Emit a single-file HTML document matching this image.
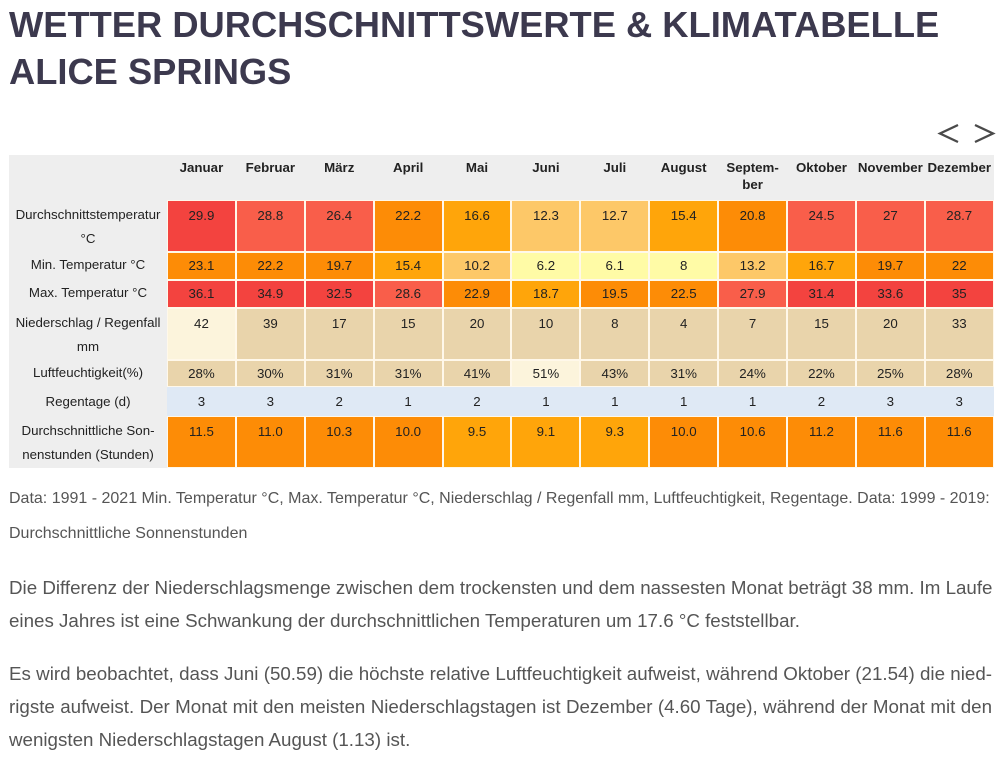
<!DOCTYPE html>
<html><head><meta charset="utf-8">
<style>
html,body{margin:0;padding:0;background:#fff;}
body{width:1000px;height:761px;position:relative;overflow:hidden;font-family:"Liberation Sans",Arial,sans-serif;}
.title{position:absolute;left:9px;top:1px;font-size:36.3px;font-weight:bold;line-height:47px;color:#3c394e;white-space:nowrap;}
.grid{position:absolute;left:9px;top:155px;display:grid;grid-template-columns:158px repeat(12,68.9px);grid-template-rows:45px 52px 28px 28px 52px 27px 29px 52px;background:#eeeeee;font-size:13.3px;color:#222;}
.grid div{box-sizing:border-box;text-align:center;overflow:hidden;}
.h{font-weight:bold;line-height:17px;padding-top:4px;color:#222;}
.l{color:#222;}
.c{border:1px solid #fff8ea;}
.d2{line-height:24px;padding-top:3px;}
.r28{line-height:26px;}
.r27{line-height:25px;}
.r29{line-height:27px;}
.R{background:#f3433f;}
.T{background:#f95e4a;}
.D{background:#fd8c06;}
.O{background:#ffa50a;}
.L{background:#fdc868;}
.Y{background:#fffba6;}
.N{background:#e9d4ab;}
.C{background:#fcf4dc;}
.B{background:#dfe9f5;border-color:#dfe9f5 !important;}
.txt{position:absolute;left:9px;color:#555;white-space:nowrap;}
.data{top:482px;font-size:16px;line-height:34.5px;}
.p{font-size:18.75px;line-height:33px;width:983px;}
.p .j{text-align:justify;text-align-last:justify;}
</style></head><body>
<div class="title">WETTER DURCHSCHNITTSWERTE &amp; KLIMATABELLE<br>ALICE SPRINGS</div>
<svg style="position:absolute;left:0;top:0" width="1000" height="160">
<polyline points="958,125 940,133.5 958,142" fill="none" stroke="#4a4a4a" stroke-width="2.3"/>
<polyline points="975,125 993,133.5 975,142" fill="none" stroke="#4a4a4a" stroke-width="2.3"/>
</svg>
<div class="grid">
<div class="h"></div><div class="h">Januar</div><div class="h">Februar</div><div class="h">März</div><div class="h">April</div><div class="h">Mai</div><div class="h">Juni</div><div class="h">Juli</div><div class="h">August</div><div class="h">Septem-<br>ber</div><div class="h">Oktober</div><div class="h">November</div><div class="h">Dezember</div>

<div class="l d2">Durchschnittstemperatur<br>°C</div>
<div class="c d2 R">29.9</div><div class="c d2 T">28.8</div><div class="c d2 T">26.4</div><div class="c d2 D">22.2</div><div class="c d2 O">16.6</div><div class="c d2 L">12.3</div><div class="c d2 L">12.7</div><div class="c d2 O">15.4</div><div class="c d2 D">20.8</div><div class="c d2 T">24.5</div><div class="c d2 T">27</div><div class="c d2 T">28.7</div>

<div class="l r28">Min. Temperatur °C</div>
<div class="c r28 D">23.1</div><div class="c r28 D">22.2</div><div class="c r28 D">19.7</div><div class="c r28 O">15.4</div><div class="c r28 L">10.2</div><div class="c r28 Y">6.2</div><div class="c r28 Y">6.1</div><div class="c r28 Y">8</div><div class="c r28 L">13.2</div><div class="c r28 O">16.7</div><div class="c r28 D">19.7</div><div class="c r28 D">22</div>

<div class="l r28">Max. Temperatur °C</div>
<div class="c r28 R">36.1</div><div class="c r28 R">34.9</div><div class="c r28 R">32.5</div><div class="c r28 T">28.6</div><div class="c r28 D">22.9</div><div class="c r28 O">18.7</div><div class="c r28 D">19.5</div><div class="c r28 D">22.5</div><div class="c r28 T">27.9</div><div class="c r28 R">31.4</div><div class="c r28 R">33.6</div><div class="c r28 R">35</div>

<div class="l d2">Niederschlag / Regenfall<br>mm</div>
<div class="c d2 C">42</div><div class="c d2 N">39</div><div class="c d2 N">17</div><div class="c d2 N">15</div><div class="c d2 N">20</div><div class="c d2 N">10</div><div class="c d2 N">8</div><div class="c d2 N">4</div><div class="c d2 N">7</div><div class="c d2 N">15</div><div class="c d2 N">20</div><div class="c d2 N">33</div>

<div class="l r27">Luftfeuchtigkeit(%)</div>
<div class="c r27 N">28%</div><div class="c r27 N">30%</div><div class="c r27 N">31%</div><div class="c r27 N">31%</div><div class="c r27 N">41%</div><div class="c r27 C">51%</div><div class="c r27 N">43%</div><div class="c r27 N">31%</div><div class="c r27 N">24%</div><div class="c r27 N">22%</div><div class="c r27 N">25%</div><div class="c r27 N">28%</div>

<div class="l r29" style="line-height:29px">Regentage (d)</div>
<div class="c r29 B">3</div><div class="c r29 B">3</div><div class="c r29 B">2</div><div class="c r29 B">1</div><div class="c r29 B">2</div><div class="c r29 B">1</div><div class="c r29 B">1</div><div class="c r29 B">1</div><div class="c r29 B">1</div><div class="c r29 B">2</div><div class="c r29 B">3</div><div class="c r29 B">3</div>

<div class="l d2">Durchschnittliche Son-<br>nenstunden (Stunden)</div>
<div class="c d2 D">11.5</div><div class="c d2 D">11.0</div><div class="c d2 D">10.3</div><div class="c d2 D">10.0</div><div class="c d2 O">9.5</div><div class="c d2 O">9.1</div><div class="c d2 O">9.3</div><div class="c d2 D">10.0</div><div class="c d2 D">10.6</div><div class="c d2 D">11.2</div><div class="c d2 D">11.6</div><div class="c d2 D">11.6</div>
</div>

<div class="txt data">Data: 1991 - 2021 Min. Temperatur °C, Max. Temperatur °C, Niederschlag / Regenfall mm, Luftfeuchtigkeit, Regentage. Data: 1999 - 2019:<br>Durchschnittliche Sonnenstunden</div>

<div class="txt p" style="top:571px">
<div class="j">Die Differenz der Niederschlagsmenge zwischen dem trockensten und dem nassesten Monat beträgt 38 mm. Im Laufe</div>
<div>eines Jahres ist eine Schwankung der durchschnittlichen Temperaturen um 17.6 °C feststellbar.</div>
</div>

<div class="txt p" style="top:657px">
<div class="j">Es wird beobachtet, dass Juni (50.59) die höchste relative Luftfeuchtigkeit aufweist, während Oktober (21.54) die nied-</div>
<div class="j">rigste aufweist. Der Monat mit den meisten Niederschlagstagen ist Dezember (4.60 Tage), während der Monat mit den</div>
<div>wenigsten Niederschlagstagen August (1.13) ist.</div>
</div>
</body></html>
